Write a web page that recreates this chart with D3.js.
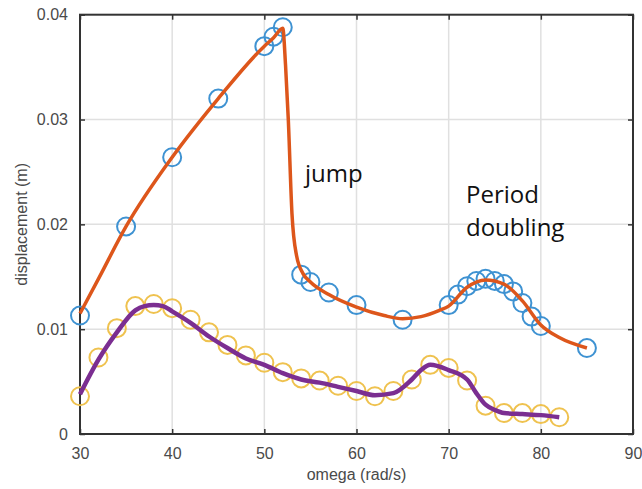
<!DOCTYPE html>
<html>
<head>
<meta charset="utf-8">
<script src="https://cdn.jsdelivr.net/npm/d3@7"></script>
<style>
  body { margin: 0; background: #fff; }
  svg { display: block; }
  .tick-label { font-family: "Liberation Sans", Arial, sans-serif; font-size: 16px; fill: #4a4a4a; }
  .axis-title { font-family: "Liberation Sans", Arial, sans-serif; font-size: 16px; fill: #4a4a4a; }
  .note { font-family: "Open Sans", sans-serif; font-size: 24px; fill: #111; }
</style>
</head>
<body>
<div id="chart"></div>
<script>
// measured points (markers)
var upperOmega = [30, 35, 40, 45, 50, 51, 52, 54, 55, 57, 60, 65, 70, 71, 72, 73, 74, 75, 76, 77, 78, 79, 80, 85];
var upperDisp = [0.0113, 0.0198, 0.0264, 0.0320, 0.0370, 0.0379, 0.0388, 0.0152, 0.0145, 0.0135, 0.0123, 0.0109,
                 0.0123, 0.0133, 0.0141, 0.0146, 0.0148, 0.0146, 0.0143, 0.0136, 0.0125, 0.0112, 0.0103, 0.0082];

var lowerOmega = [30, 32, 34, 36, 38, 40, 42, 44, 46, 48, 50, 52, 54, 56, 58, 60, 62, 64, 66, 68, 70, 72, 74, 76, 78, 80, 82];
var lowerDisp = [0.0036, 0.0073, 0.0101, 0.0122, 0.0124, 0.0120, 0.0109, 0.0097, 0.0085, 0.0075, 0.0068, 0.0059, 0.0053,
                 0.0051, 0.0046, 0.0041, 0.0036, 0.0041, 0.0052, 0.0066, 0.0063, 0.0051, 0.0027, 0.0020, 0.0020, 0.0019, 0.0016];

// simulated curves
var orangeOmega = [30, 32, 35, 40, 45, 50, 51, 52, 52.3, 52.6, 53.0, 53.5, 54.2, 55, 57, 60, 63, 65, 67, 69, 70, 72, 74, 76, 78, 80, 82, 85];
var orangeDisp = [0.0115, 0.0148, 0.0198, 0.0264, 0.0320, 0.0370, 0.0378, 0.0387, 0.0352, 0.0300, 0.0210, 0.0170, 0.0153,
                  0.0145, 0.0133, 0.0121, 0.0113, 0.0110, 0.0112, 0.0118, 0.0122, 0.0140, 0.0147, 0.0143, 0.0127, 0.0104, 0.0092, 0.0082];

var purpleOmega = [30, 32, 34, 36, 37, 38, 39, 40, 42, 44, 46, 48, 50, 52, 54, 56, 58, 60, 62, 64, 66, 67, 68, 70, 72, 73, 74, 75, 76, 78, 80, 82];
var purpleDisp = [0.0038, 0.0071, 0.0097, 0.0118, 0.0122, 0.0123, 0.0122, 0.0117, 0.0106, 0.0093, 0.0082, 0.0072, 0.0066,
                  0.0058, 0.0052, 0.0049, 0.0045, 0.0041, 0.0037, 0.0039, 0.0052, 0.0061, 0.0066, 0.0061, 0.0052, 0.0039,
                  0.0028, 0.0023, 0.0020, 0.0019, 0.0018, 0.0016];

var xTicks = [30, 40, 50, 60, 70, 80, 90];
var yTicks = [0, 0.01, 0.02, 0.03, 0.04];
var yTickLabels = ["0", "0.01", "0.02", "0.03", "0.04"];

var W = 642, H = 489;
var margin = { top: 14.7, right: 9, bottom: 55, left: 80 };
var width = W - margin.left - margin.right;
var height = H - margin.top - margin.bottom;

var svg = d3.select("#chart").append("svg")
    .attr("width", W)
    .attr("height", H);

var g = svg.append("g")
    .attr("transform", "translate(" + margin.left + "," + margin.top + ")");

var x = d3.scaleLinear().domain([30, 90]).range([0, width]);
var y = d3.scaleLinear().domain([0, 0.04]).range([height, 0]);

// grid
g.append("g").selectAll("line")
    .data(xTicks.slice(1, -1))
    .enter().append("line")
    .attr("x1", function (d) { return x(d); })
    .attr("x2", function (d) { return x(d); })
    .attr("y1", 0).attr("y2", height)
    .attr("stroke", "#e0e0e0").attr("stroke-width", 1.5);
g.append("g").selectAll("line")
    .data(yTicks.slice(1, -1))
    .enter().append("line")
    .attr("y1", function (d) { return y(d); })
    .attr("y2", function (d) { return y(d); })
    .attr("x1", 0).attr("x2", width)
    .attr("stroke", "#e0e0e0").attr("stroke-width", 1.5);

// axes: bottom/left with labels, top/right with ticks only (all ticks inward)
var axColor = "#333";
function styleAxis(sel) {
    sel.select(".domain").remove();
    sel.selectAll(".tick line").attr("stroke", axColor).attr("stroke-width", 1.5);
}
g.append("g")
    .attr("transform", "translate(0," + height + ")")
    .call(d3.axisBottom(x).tickValues(xTicks).tickSize(-5).tickPadding(14))
    .call(styleAxis)
    .selectAll("text").attr("class", "tick-label").attr("fill", null).attr("dy", "0.71em");
g.append("g")
    .call(d3.axisTop(x).tickValues(xTicks).tickSize(-5).tickFormat(""))
    .call(styleAxis);
g.append("g")
    .call(d3.axisLeft(y).tickValues(yTicks).tickSize(-5).tickPadding(12)
        .tickFormat(function (d, i) { return yTickLabels[i]; }))
    .call(styleAxis)
    .selectAll("text").attr("class", "tick-label").attr("fill", null);
g.append("g")
    .attr("transform", "translate(" + width + ",0)")
    .call(d3.axisRight(y).tickValues(yTicks).tickSize(-5).tickFormat(""))
    .call(styleAxis);

g.append("rect")
    .attr("x", 0).attr("y", 0)
    .attr("width", width).attr("height", height)
    .attr("fill", "none")
    .attr("stroke", axColor)
    .attr("stroke-width", 2);

// axis titles
g.append("text")
    .attr("class", "axis-title")
    .attr("x", width / 2)
    .attr("y", height + 46)
    .attr("text-anchor", "middle")
    .text("omega (rad/s)");
g.append("text")
    .attr("class", "axis-title")
    .attr("transform", "rotate(-90)")
    .attr("x", -height / 2)
    .attr("y", -53)
    .attr("text-anchor", "middle")
    .text("displacement (m)");

// markers
function drawMarkers(xs, ys, color) {
    g.append("g").selectAll("circle")
        .data(xs)
        .enter().append("circle")
        .attr("cx", function (d) { return x(d); })
        .attr("cy", function (d, i) { return y(ys[i]); })
        .attr("r", 9)
        .attr("fill", "none")
        .attr("stroke", color)
        .attr("stroke-width", 2);
}
drawMarkers(upperOmega, upperDisp, "#3e92d2");
drawMarkers(lowerOmega, lowerDisp, "#efc24f");

// curves
function drawCurve(xs, ys, color, w) {
    var line = d3.line()
        .x(function (d) { return x(d); })
        .y(function (d, i) { return y(ys[i]); })
        .curve(d3.curveMonotoneX);
    g.append("path")
        .attr("d", line(xs))
        .attr("fill", "none")
        .attr("stroke", color)
        .attr("stroke-width", w)
        .attr("stroke-linejoin", "round");
}
drawCurve(orangeOmega, orangeDisp, "#dd561b", 3.5);
drawCurve(purpleOmega, purpleDisp, "#7b2e91", 4.5);

// annotations
svg.append("text").attr("class", "note").attr("x", 305).attr("y", 182).text("jump");
svg.append("text").attr("class", "note").attr("x", 466).attr("y", 203).text("Period");
svg.append("text").attr("class", "note").attr("x", 466).attr("y", 236).text("doubling");
</script>
</body>
</html>
